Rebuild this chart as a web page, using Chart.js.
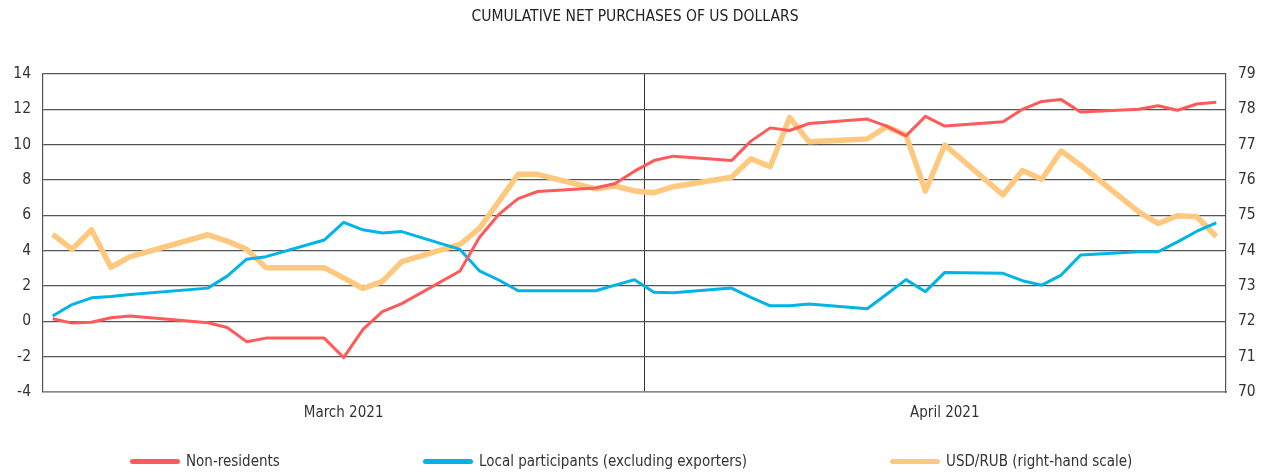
<!DOCTYPE html>
<html>
<head>
<meta charset="utf-8">
<script src="https://cdn.jsdelivr.net/npm/chart.js@4"></script>
<style>
  body { margin: 0; background: #fff; }
  #wrap { position: relative; width: 1270px; height: 473px; }
  #legend { position: absolute; left: 0; top: 451px; width: 1270px; height: 20px;
    font-family: "Liberation Sans Narrow", "DejaVu Sans Condensed", sans-serif; font-size: 15px; color: #333; }
  .item { position: absolute; top: 0; display: flex; align-items: center; height: 20px; }
  .swatch { width: 50px; height: 5px; border-radius: 3px; margin-right: 6px; }
</style>
</head>
<body>
<div id="wrap">
  <canvas id="chart" width="1270" height="473"></canvas>
  <div id="legend"></div>
</div>
<script>
// Calendar days of March and April 2021; null = no trading that day
const marchDays = 31;
const aprilDays = 30;
const dayLabels = [];
for (let d = 1; d <= marchDays; d++) dayLabels.push("2021-03-" + String(d).padStart(2, "0"));
for (let d = 1; d <= aprilDays; d++) dayLabels.push("2021-04-" + String(d).padStart(2, "0"));

const monthTickIndex = [15, 46];
const monthTickText = ["March 2021", "April 2021"];

// Non-residents, USD bn (left scale)
const nonResidents = [
  0.15, -0.1, -0.05, 0.2, 0.3, null, null, null,
  -0.08, -0.35, -1.15, -0.95, null, null,
  -0.95, -2.05, -0.45, 0.55, 1.0, null, null,
  2.85, 4.75, 6.05, 6.95, 7.35, null, null,
  7.55, 7.8, 8.5, 9.1, 9.35, null, null,
  9.1, 10.2, 10.95, 10.8, 11.2, null, null,
  11.45, 11.05, 10.5, 11.6, 11.05, null, null,
  11.3, 12.0, 12.45, 12.55, 11.85, null, null,
  12.0, 12.2, 11.95, 12.3, 12.4
];

// Local participants excluding exporters (left scale)
const localParticipants = [
  0.3, 0.95, 1.33, 1.4, 1.52, null, null, null,
  1.88, 2.56, 3.52, 3.66, null, null,
  4.6, 5.6, 5.18, 5.0, 5.08, null, null,
  4.07, 2.86, 2.34, 1.73, 1.73, null, null,
  1.73, 2.05, 2.35, 1.64, 1.62, null, null,
  1.88, 1.36, 0.88, 0.88, 0.98, null, null,
  0.71, 1.53, 2.36, 1.68, 2.77, null, null,
  2.72, 2.3, 2.05, 2.62, 3.75, null, null,
  3.94, 3.94, 4.5, 5.1, 5.58
];

// USD/RUB (right scale)
const usdRub = [
  74.46, 74.04, 74.59, 73.53, 73.83, null, null, null,
  74.45, 74.27, 74.04, 73.52, null, null,
  73.52, 73.23, 72.93, 73.13, 73.69, null, null,
  74.18, 74.63, 75.39, 76.16, 76.16, null, null,
  75.75, 75.83, 75.69, 75.64, 75.81, null, null,
  76.08, 76.6, 76.38, 77.77, 77.08, null, null,
  77.16, 77.51, 77.27, 75.69, 76.99, null, null,
  75.58, 76.27, 76.02, 76.82, 76.42, null, null,
  75.1, 74.77, 74.99, 74.96, 74.4
];

const seriesNames = ["Non-residents", "Local participants (excluding exporters)", "USD/RUB (right-hand scale)"];
const seriesColors = ["#ff5a5a", "#00b4e6", "#ffc87f"];

const font = "'Liberation Sans Narrow', 'DejaVu Sans Condensed', sans-serif";
Chart.defaults.font.family = font;
Chart.defaults.color = "#333";

new Chart(document.getElementById("chart"), {
  type: "line",
  data: {
    labels: dayLabels,
    datasets: [
      { label: seriesNames[0], data: nonResidents, borderColor: seriesColors[0], borderWidth: 3, yAxisID: "y" },
      { label: seriesNames[1], data: localParticipants, borderColor: seriesColors[1], borderWidth: 3, yAxisID: "y" },
      { label: seriesNames[2], data: usdRub, borderColor: seriesColors[2], borderWidth: 5.5, yAxisID: "y1" }
    ]
  },
  options: {
    responsive: false,
    animation: false,
    spanGaps: true,
    elements: { point: { radius: 0 }, line: { tension: 0, borderJoinStyle: "round" } },
    layout: { padding: { left: 0, right: 0, top: 0, bottom: 41 } },
    plugins: {
      legend: { display: false },
      tooltip: { enabled: false },
      title: {
        display: true,
        text: "CUMULATIVE NET PURCHASES OF US DOLLARS",
        color: "#222",
        font: { size: 15.5, weight: "normal" },
        padding: { top: 8, bottom: 47.4 }
      }
    },
    scales: {
      x: {
        offset: true,
        grid: {
          offset: true,
          drawTicks: false,
          color: (ctx) => (ctx.index === 31 ? "#333" : "rgba(0,0,0,0)")
        },
        border: { color: "#888", width: 1.5 },
        ticks: {
          autoSkip: false,
          maxRotation: 0,
          padding: 12,
          font: { size: 15 },
          callback: (v, i) => {
            const k = monthTickIndex.indexOf(i);
            return k >= 0 ? monthTickText[k] : "";
          }
        },
        afterFit: (s) => { s.height = 40; }
      },
      y: {
        position: "left",
        min: -4,
        max: 14,
        ticks: { stepSize: 2, padding: 12, font: { size: 15.5 } },
        grid: { color: "#555", lineWidth: 1.2, drawTicks: false },
        border: { color: "#555", width: 1.2 },
        afterFit: (s) => { s.width = 43; }
      },
      y1: {
        position: "right",
        min: 70,
        max: 79,
        ticks: { stepSize: 1, padding: 12, font: { size: 15.5 } },
        grid: { display: false, drawTicks: false },
        border: { color: "#555", width: 1.2 },
        afterFit: (s) => { s.width = 44; }
      }
    }
  }
});

// HTML legend spread across the bottom
const legendLeft = [130, 423, 890];
const legend = document.getElementById("legend");
seriesNames.forEach((name, i) => {
  const item = document.createElement("div");
  item.className = "item";
  item.style.left = legendLeft[i] + "px";
  item.innerHTML = '<span class="swatch" style="background:' + seriesColors[i] + '"></span><span>' + name + "</span>";
  legend.appendChild(item);
});
</script>
</body>
</html>
